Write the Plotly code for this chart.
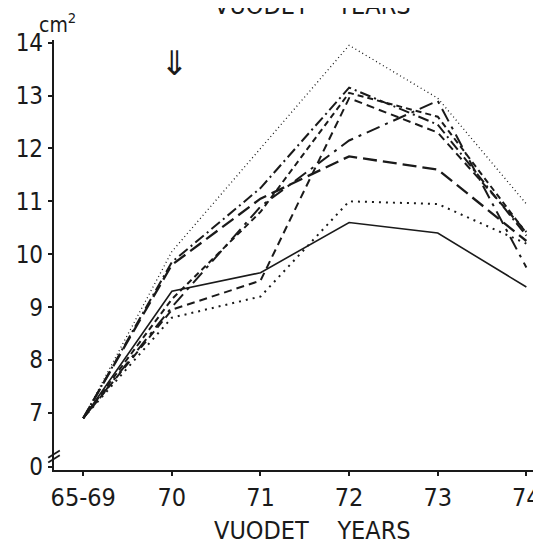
import plotly.graph_objects as go

categories = ["65-69", "70", "71", "72", "73", "74"]

series_A = [6.9, 10.05, 12.0, 13.95, 12.95, 10.95]   # fine dotted, upper
series_B = [6.9, 9.3, 9.65, 10.6, 10.4, 9.38]        # solid
series_C = [6.9, 8.8, 9.2, 11.0, 10.95, 10.2]        # dotted, lower
series_D = [6.9, 9.8, 11.05, 11.85, 11.6, 10.25]     # long dash
series_E = [6.9, 9.85, 11.25, 13.15, 12.45, 10.35]   # dash-dot
series_F = [6.9, 9.15, 10.8, 13.05, 12.6, 10.4]      # short dash
series_G = [6.9, 8.95, 9.5, 12.95, 12.3, 10.42]      # medium dash
series_H = [6.9, 9.0, 10.9, 12.15, 12.9, 9.75]       # long dash-dot

y_tickvals = [5.98, 7, 8, 9, 10, 11, 12, 13, 14]
y_ticktext = ["0", "7", "8", "9", "10", "11", "12", "13", "14"]

styles = [
    (series_A, "1px,3px", 1.3),
    (series_B, "solid", 1.6),
    (series_C, "2px,5px", 2.0),
    (series_D, "14px,6px", 2.3),
    (series_E, "11px,4px,2px,4px", 2.0),
    (series_F, "6px,4px", 2.0),
    (series_G, "8px,5px", 2.0),
    (series_H, "14px,6px,3px,6px", 2.0),
]

xs = list(range(len(categories)))
fig = go.Figure()
for vals, dash, w in styles:
    fig.add_trace(go.Scatter(x=xs, y=vals, mode="lines",
                             line=dict(color="#1a1a1a", width=w, dash=dash),
                             showlegend=False, hoverinfo="skip"))

font_fam = "Liberation Sans Narrow, DejaVu Sans Condensed, DejaVu Sans"

fig.update_layout(
    width=541, height=547,
    margin=dict(l=42, r=8, t=32, b=85),
    paper_bgcolor="white", plot_bgcolor="white",
    xaxis=dict(
        range=[-0.33, 5.12],
        tickvals=xs, ticktext=categories,
        showgrid=False, zeroline=False,
        showline=True, linecolor="#1a1a1a", linewidth=2.2,
        ticks="outside", ticklen=4, tickwidth=2, tickcolor="#1a1a1a",
        ticklabeloverflow="allow",
        tickfont=dict(family=font_fam, size=25, color="#1a1a1a"),
    ),
    yaxis=dict(
        range=[5.92, 14.05],
        tickvals=y_tickvals, ticktext=y_ticktext,
        showgrid=False, zeroline=False,
        showline=True, linecolor="#1a1a1a", linewidth=2.2,
        ticks="outside", ticklen=4, tickwidth=2, tickcolor="#1a1a1a",
        ticklabeloverflow="allow",
        tickfont=dict(family=font_fam, size=24, color="#1a1a1a"),
    ),
    font=dict(family=font_fam, color="#1a1a1a"),
)

# axis break marks
for dy in (0.0, 0.09):
    fig.add_shape(type="line", xref="paper", yref="y",
                  x0=-0.012, x1=0.012, y0=6.06 + dy, y1=6.2 + dy,
                  line=dict(color="#1a1a1a", width=1.8))

fig.add_annotation(text="cm<sup>2</sup>", xref="paper", yref="paper",
                   x=-0.035, y=1.04, xanchor="left", yanchor="middle",
                   showarrow=False, font=dict(family=font_fam, size=21))
fig.add_annotation(text="⇓", xref="x", yref="y", x=1.03, y=13.62,
                   showarrow=False, font=dict(family="DejaVu Sans", size=34))
fig.add_annotation(text="VUODET&nbsp;&nbsp;&nbsp;&nbsp;YEARS", xref="paper", yref="paper",
                   x=0.535, y=-0.14, xanchor="center", yanchor="middle",
                   showarrow=False, font=dict(family=font_fam, size=25))
fig.add_annotation(text="VUODET&nbsp;&nbsp;&nbsp;&nbsp;YEARS", xref="paper", yref="paper",
                   x=0.535, y=1.08, xanchor="center", yanchor="middle",
                   showarrow=False, font=dict(family=font_fam, size=25))

fig.write_html("out.html")
